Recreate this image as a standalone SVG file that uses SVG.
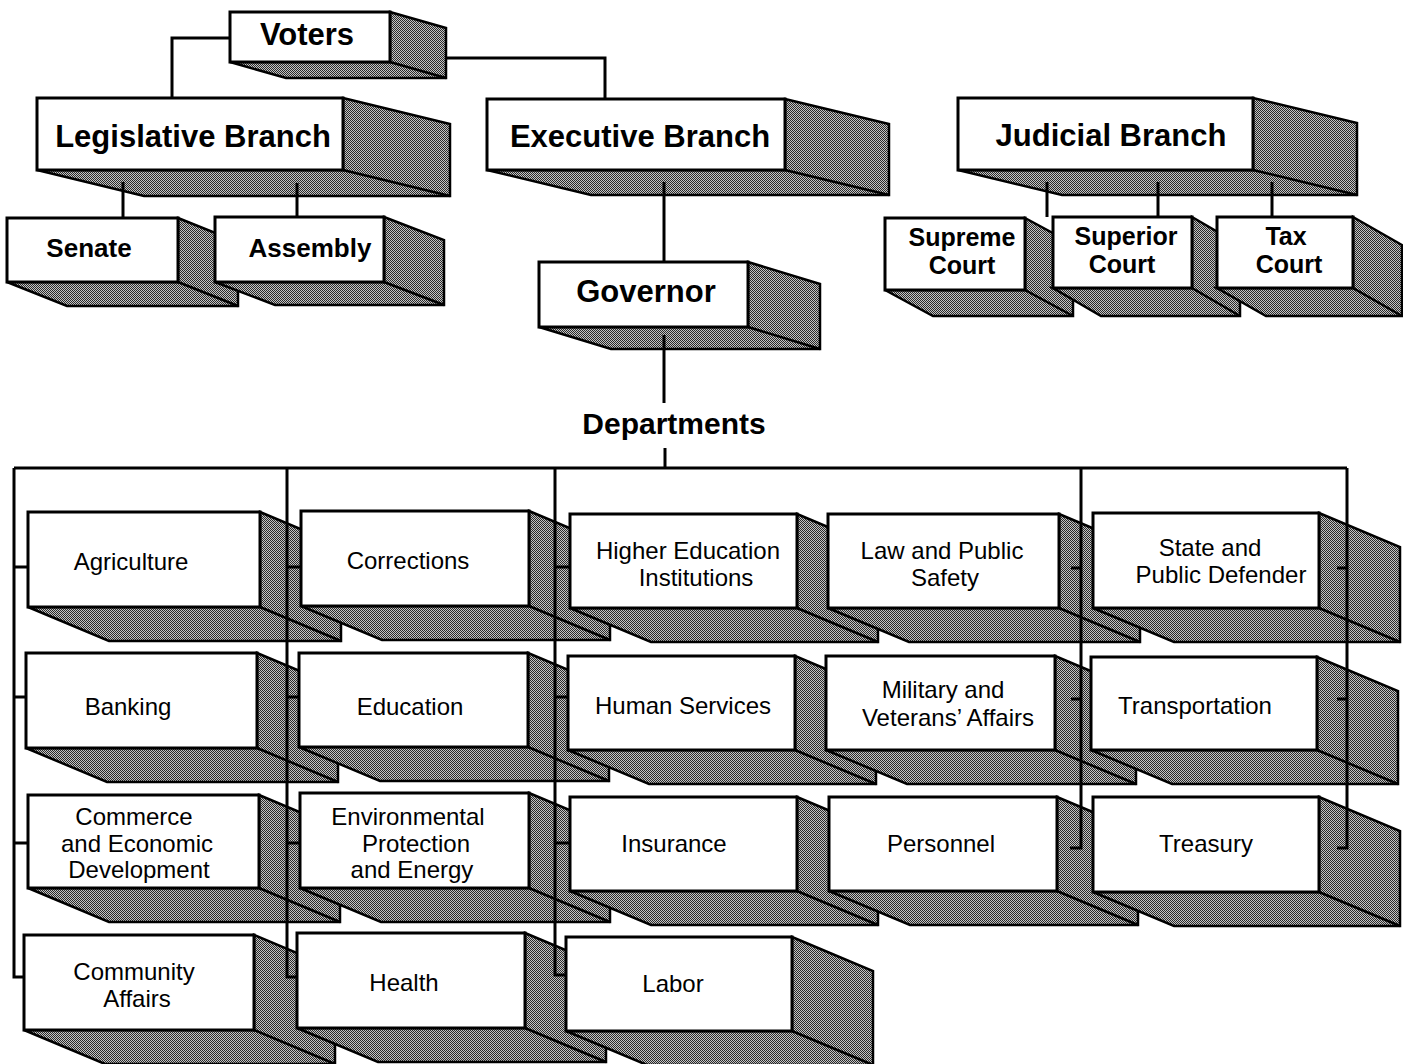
<svg xmlns="http://www.w3.org/2000/svg" width="1403" height="1064" viewBox="0 0 1403 1064">
<defs>
<pattern id="dith" width="2" height="2" patternUnits="userSpaceOnUse">
<rect width="2" height="2" fill="#c4c4c4"/>
<rect width="1" height="1" fill="#2a2a2a"/>
<rect x="1" y="1" width="1" height="1" fill="#2a2a2a"/>
</pattern>
</defs>
<style>
.ext{fill:url(#dith);stroke:#000;stroke-width:2.5;stroke-linejoin:miter}
.dg{stroke:#000;stroke-width:2.5;fill:none}
.face{fill:#fff;stroke:#000;stroke-width:3}
.h{font-family:"Liberation Sans",Arial,sans-serif;font-weight:bold;font-size:31px;text-anchor:middle;fill:#000}
.s{font-family:"Liberation Sans",Arial,sans-serif;font-weight:bold;font-size:26px;text-anchor:middle;fill:#000}
.j{font-family:"Liberation Sans",Arial,sans-serif;font-weight:bold;font-size:25px;text-anchor:middle;fill:#000}
.d{font-family:"Liberation Sans",Arial,sans-serif;font-size:24px;text-anchor:middle;fill:#000}
.c{stroke:#000;stroke-width:3;fill:none;stroke-linejoin:miter}
</style>
<rect width="1403" height="1064" fill="#fff"/>

<g id="voters"><path class="ext" d="M390,12 L446,28 L446,78 L286,78 L230,62 L390,62Z"/><path class="dg" d="M390,62 L446,78"/><rect class="face" x="230" y="12" width="160" height="50"/><text class="h" x="307" y="45">Voters</text></g>
<g id="legislative"><path class="ext" d="M343,98 L450,124 L450,196 L144,196 L37,170 L343,170Z"/><path class="dg" d="M343,170 L450,196"/><rect class="face" x="37" y="98" width="306" height="72"/><text class="h" x="193" y="147">Legislative Branch</text></g>
<g id="executive"><path class="ext" d="M785,99 L889,124 L889,195 L591,195 L487,170 L785,170Z"/><path class="dg" d="M785,170 L889,195"/><rect class="face" x="487" y="99" width="298" height="71"/><text class="h" x="640" y="147">Executive Branch</text></g>
<g id="judicial"><path class="ext" d="M1253,98 L1357,123 L1357,195 L1062,195 L958,170 L1253,170Z"/><path class="dg" d="M1253,170 L1357,195"/><rect class="face" x="958" y="98" width="295" height="72"/><text class="h" x="1111" y="146">Judicial Branch</text></g>
<g id="senate"><path class="ext" d="M178,218 L238,242 L238,306 L67,306 L7,282 L178,282Z"/><path class="dg" d="M178,282 L238,306"/><rect class="face" x="7" y="218" width="171" height="64"/><text class="s" x="89" y="257">Senate</text></g>
<g id="assembly"><path class="ext" d="M384,217 L444,240 L444,305 L275,305 L215,282 L384,282Z"/><path class="dg" d="M384,282 L444,305"/><rect class="face" x="215" y="217" width="169" height="65"/><text class="s" x="310" y="257">Assembly</text></g>
<g id="governor"><path class="ext" d="M748,262 L820,284 L820,349 L611,349 L539,327 L748,327Z"/><path class="dg" d="M748,327 L820,349"/><rect class="face" x="539" y="262" width="209" height="65"/><text class="h" x="646" y="302">Governor</text></g>
<g id="supreme"><path class="ext" d="M1025,218 L1073,244 L1073,316 L933,316 L885,290 L1025,290Z"/><path class="dg" d="M1025,290 L1073,316"/><rect class="face" x="885" y="218" width="140" height="72"/><text class="j" x="962" y="246">Supreme</text><text class="j" x="962" y="274">Court</text></g>
<g id="superior"><path class="ext" d="M1192,217 L1240,245 L1240,316 L1101,316 L1053,288 L1192,288Z"/><path class="dg" d="M1192,288 L1240,316"/><rect class="face" x="1053" y="217" width="139" height="71"/><text class="j" x="1126" y="245">Superior</text><text class="j" x="1122" y="273">Court</text></g>
<g id="tax"><path class="ext" d="M1353,217 L1402,245 L1402,316 L1266,316 L1217,288 L1353,288Z"/><path class="dg" d="M1353,288 L1402,316"/><rect class="face" x="1217" y="217" width="136" height="71"/><text class="j" x="1286" y="245">Tax</text><text class="j" x="1289" y="273">Court</text></g>

<g id="departments-label"><text class="h" x="674" y="434" style="font-size:30px">Departments</text></g>

<g id="agriculture"><path class="ext" d="M260,512 L341,546 L341,641 L109,641 L28,607 L260,607Z"/><path class="dg" d="M260,607 L341,641"/><rect class="face" x="28" y="512" width="232" height="95"/><text class="d" x="131" y="570">Agriculture</text></g>
<g id="corrections"><path class="ext" d="M529,511 L610,545 L610,640 L382,640 L301,606 L529,606Z"/><path class="dg" d="M529,606 L610,640"/><rect class="face" x="301" y="511" width="228" height="95"/><text class="d" x="408" y="569">Corrections</text></g>
<g id="higher-education"><path class="ext" d="M797,514 L878,548 L878,642 L651,642 L570,608 L797,608Z"/><path class="dg" d="M797,608 L878,642"/><rect class="face" x="570" y="514" width="227" height="94"/><text class="d" x="688" y="559">Higher Education</text><text class="d" x="696" y="586">Institutions</text></g>
<g id="law"><path class="ext" d="M1059,514 L1140,548 L1140,642 L909,642 L828,608 L1059,608Z"/><path class="dg" d="M1059,608 L1140,642"/><rect class="face" x="828" y="514" width="231" height="94"/><text class="d" x="942" y="559">Law and Public</text><text class="d" x="945" y="586">Safety</text></g>
<g id="state"><path class="ext" d="M1319,513 L1400,547 L1400,642 L1174,642 L1093,608 L1319,608Z"/><path class="dg" d="M1319,608 L1400,642"/><rect class="face" x="1093" y="513" width="226" height="95"/><text class="d" x="1210" y="556">State and</text><text class="d" x="1221" y="583">Public Defender</text></g>

<g id="banking"><path class="ext" d="M257,653 L338,687 L338,782 L107,782 L26,748 L257,748Z"/><path class="dg" d="M257,748 L338,782"/><rect class="face" x="26" y="653" width="231" height="95"/><text class="d" x="128" y="715">Banking</text></g>
<g id="education"><path class="ext" d="M528,653 L609,687 L609,781 L380,781 L299,747 L528,747Z"/><path class="dg" d="M528,747 L609,781"/><rect class="face" x="299" y="653" width="229" height="94"/><text class="d" x="410" y="715">Education</text></g>
<g id="human-services"><path class="ext" d="M795,656 L876,690 L876,784 L649,784 L568,750 L795,750Z"/><path class="dg" d="M795,750 L876,784"/><rect class="face" x="568" y="656" width="227" height="94"/><text class="d" x="683" y="714">Human Services</text></g>
<g id="military"><path class="ext" d="M1055,656 L1136,690 L1136,784 L907,784 L826,750 L1055,750Z"/><path class="dg" d="M1055,750 L1136,784"/><rect class="face" x="826" y="656" width="229" height="94"/><text class="d" x="943" y="698">Military and</text><text class="d" x="948" y="726">Veterans’ Affairs</text></g>
<g id="transportation"><path class="ext" d="M1317,657 L1398,691 L1398,784 L1172,784 L1091,750 L1317,750Z"/><path class="dg" d="M1317,750 L1398,784"/><rect class="face" x="1091" y="657" width="226" height="93"/><text class="d" x="1195" y="714">Transportation</text></g>

<g id="commerce"><path class="ext" d="M259,795 L340,829 L340,922 L109,922 L28,888 L259,888Z"/><path class="dg" d="M259,888 L340,922"/><rect class="face" x="28" y="795" width="231" height="93"/><text class="d" x="134" y="825">Commerce</text><text class="d" x="137" y="852">and Economic</text><text class="d" x="139" y="878">Development</text></g>
<g id="environmental"><path class="ext" d="M529,793 L610,827 L610,922 L381,922 L300,888 L529,888Z"/><path class="dg" d="M529,888 L610,922"/><rect class="face" x="300" y="793" width="229" height="95"/><text class="d" x="408" y="825">Environmental</text><text class="d" x="416" y="852">Protection</text><text class="d" x="412" y="878">and Energy</text></g>
<g id="insurance"><path class="ext" d="M797,797 L878,831 L878,925 L651,925 L570,891 L797,891Z"/><path class="dg" d="M797,891 L878,925"/><rect class="face" x="570" y="797" width="227" height="94"/><text class="d" x="674" y="852">Insurance</text></g>
<g id="personnel"><path class="ext" d="M1057,797 L1138,831 L1138,925 L910,925 L829,891 L1057,891Z"/><path class="dg" d="M1057,891 L1138,925"/><rect class="face" x="829" y="797" width="228" height="94"/><text class="d" x="941" y="852">Personnel</text></g>
<g id="treasury"><path class="ext" d="M1319,797 L1400,831 L1400,926 L1174,926 L1093,892 L1319,892Z"/><path class="dg" d="M1319,892 L1400,926"/><rect class="face" x="1093" y="797" width="226" height="95"/><text class="d" x="1206" y="852">Treasury</text></g>

<g id="community-affairs"><path class="ext" d="M254,935 L335,969 L335,1064 L105,1064 L24,1030 L254,1030Z"/><path class="dg" d="M254,1030 L335,1064"/><rect class="face" x="24" y="935" width="230" height="95"/><text class="d" x="134" y="980">Community</text><text class="d" x="137" y="1007">Affairs</text></g>
<g id="health"><path class="ext" d="M525,933 L606,967 L606,1062 L378,1062 L297,1028 L525,1028Z"/><path class="dg" d="M525,1028 L606,1062"/><rect class="face" x="297" y="933" width="228" height="95"/><text class="d" x="404" y="991">Health</text></g>
<g id="labor"><path class="ext" d="M792,937 L873,971 L873,1065 L647,1065 L566,1031 L792,1031Z"/><path class="dg" d="M792,1031 L873,1065"/><rect class="face" x="566" y="937" width="226" height="94"/><text class="d" x="673" y="992">Labor</text></g>

<g id="connectors" class="c">
<path d="M230,38 H172 V98"/>
<path d="M446,58 H605 V99"/>
<path d="M123,182 V218"/>
<path d="M297,183 V217"/>
<path d="M664,182 V262"/>
<path d="M1047,182 V217"/>
<path d="M1158,182 V217"/>
<path d="M1272,182 V217"/>
<path d="M664,335 V403"/>
<path d="M665,448 V468"/>
<path d="M14,468 H1347"/>
<path d="M14,468 V977 H24"/>
<path d="M14,567 H27 M14,697 H26 M14,843 H28"/>
<path d="M287,468 V977 H297"/>
<path d="M287,567 H301 M287,697 H299 M287,843 H300"/>
<path d="M555,468 V975 H566"/>
<path d="M555,567 H570 M555,697 H568 M555,843 H570"/>
<path d="M1081,468 V848 H1070"/>
<path d="M1081,568 H1071 M1081,699 H1071"/>
<path d="M1347,468 V848 H1337"/>
<path d="M1347,568 H1337 M1347,699 H1337"/>
</g>
</svg>
